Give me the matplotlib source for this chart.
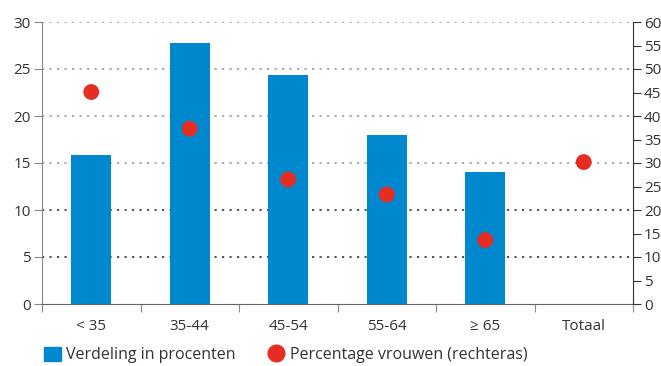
import matplotlib
matplotlib.use("Agg")
from matplotlib import pyplot as plt
from matplotlib.lines import Line2D
from matplotlib.patches import Patch
import numpy as np

categories = ["< 35", "35-44", "45-54", "55-64", "\u2265 65", "Totaal"]
verdeling = [15.8, 27.8, 24.4, 18.0, 14.0, None]
vrouwen = [45.1, 37.3, 26.5, 23.3, 13.6, 30.2]

blue = "#0088cf"
red = "#e52d24"

plt.rcParams['font.family'] = ['Open Sans', 'DejaVu Sans']

fig = plt.figure(figsize=(6.61, 3.66), dpi=100)
ax = fig.add_axes([42/661, 1 - 304/366, (633 - 42)/661, (304 - 22)/366])
ax2 = ax.twinx()

x = np.arange(len(categories))
bx = [i for i, v in enumerate(verdeling) if v is not None]
bv = [v for v in verdeling if v is not None]
ax.bar(bx, bv, width=0.41, color=blue, zorder=3)

ax.set_xlim(-0.5, len(categories) - 0.5)
ax.set_ylim(0, 30)
ax.set_yticks(range(0, 31, 5))
ax2.set_ylim(0, 60)
ax2.set_yticks(range(0, 61, 5))

# dotted gridlines
for yv in range(5, 31, 5):
    c = "#333333" if yv <= 10 else "#999999"
    ax.axhline(yv, color=c, lw=1.2, ls=(0, (1.3, 3.2)), zorder=1)

ax2.scatter(x, vrouwen, s=130, color=red, zorder=4, edgecolors="none")

# x ticks at the category boundaries, labels in the middle
ax.set_xticks(np.arange(-0.5, len(categories), 1))
ax.set_xticklabels([])
ax.set_xticks(x, minor=True)
ax.set_xticklabels(categories, minor=True)
ax.tick_params(axis="x", which="minor", length=0, pad=11, labelsize=11, labelcolor="#333333")
ax.tick_params(axis="x", which="major", length=6, color="#888888")
ax.tick_params(axis="y", length=6, color="#888888", labelsize=11, labelcolor="#333333", pad=2)
ax2.tick_params(axis="y", length=6, color="#333333", labelsize=11, labelcolor="#333333", pad=2)

for a in (ax, ax2):
    a.spines["top"].set_visible(False)
ax.spines["left"].set_color("#888888")
ax.spines["bottom"].set_color("#666666")
ax.spines["right"].set_visible(False)
ax2.spines["left"].set_visible(False)
ax2.spines["bottom"].set_visible(False)
ax2.spines["right"].set_color("#333333")
ax.set_zorder(ax2.get_zorder() - 1)
ax2.patch.set_visible(False)

handles = [
    Patch(color=blue, label="Verdeling in procenten"),
    Line2D([], [], marker="o", ls="none", color=red, markersize=12, label="Percentage vrouwen (rechteras)"),
]
fig.legend(handles=handles, loc="center left", bbox_to_anchor=(44/661, 1 - 355/366), ncol=2,
           frameon=False, fontsize=11.5, handlelength=1.05, handleheight=1.05,
           handletextpad=0.35, columnspacing=2.0, borderpad=0, borderaxespad=0,
           labelcolor="#333333")

plt.savefig("out.png", dpi=100)
plt.close("all")
